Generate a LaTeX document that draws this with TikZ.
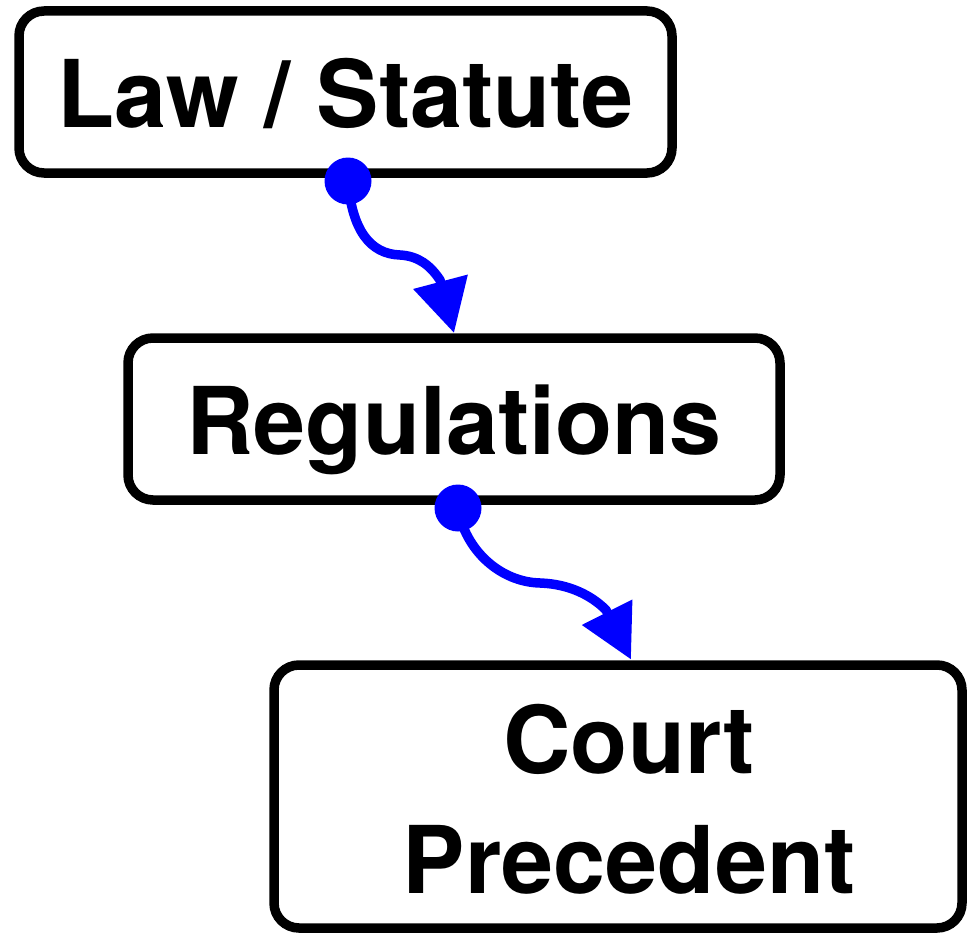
\documentclass[tikz,border=0pt]{standalone}
\usepackage{fontspec}
\setmainfont{TeX Gyre Heros}
\usetikzlibrary{arrows.meta,calc}
\tikzset{
  box/.style={draw=black, line width=9.5pt, rounded corners=25pt, inner sep=0pt, outer sep=0pt, fill=white},
  lbl/.style={font=\fontsize{93.5}{120}\selectfont\bfseries, align=center, inner sep=0pt},
  conn/.style={draw=blue, line width=9.5pt, line join=round, -{Triangle[length=53pt,width=54pt]}},
  dotfill/.style={fill=blue}
}
\begin{document}
\begin{tikzpicture}[x=1pt,y=-1pt]
\useasboundingbox (0,0) rectangle (967,934);
\node[box, lbl, minimum width=653pt, minimum height=162pt, text height=90pt, text depth=20pt] (law) at (345.5,92) {Law / Statute};
\node[box, lbl, minimum width=652pt, minimum height=162pt, text height=90pt, text depth=20pt] (reg) at (454,419) {Regulations};
\node[box, minimum width=688pt, minimum height=263pt] (court) at (618,796.5) {};
\node[lbl] (courttxt) at (629,799) {Court\\Precedent};
\coordinate (s1) at ([xshift=2.5pt,yshift=-8pt]law.south);
\coordinate (t1) at ([yshift=5pt]reg.north);
\coordinate (s2) at ([xshift=4pt,yshift=-8pt]reg.south);
\coordinate (t2) at ([xshift=13pt,yshift=5.5pt]court.north);
\draw[conn] (s1) .. controls (352,230) and (370,254) .. (400,255) .. controls (418,256) and (430,265) .. (440,280) -- (t1);
\draw[conn] (s2) .. controls (465,550) and (500,582) .. (540,583) .. controls (570,584) and (592,596) .. (606,610) -- (t2);
\fill[dotfill] (s1) circle[radius=23.5pt];
\fill[dotfill] (s2) circle[radius=23.5pt];
\end{tikzpicture}
\end{document}
